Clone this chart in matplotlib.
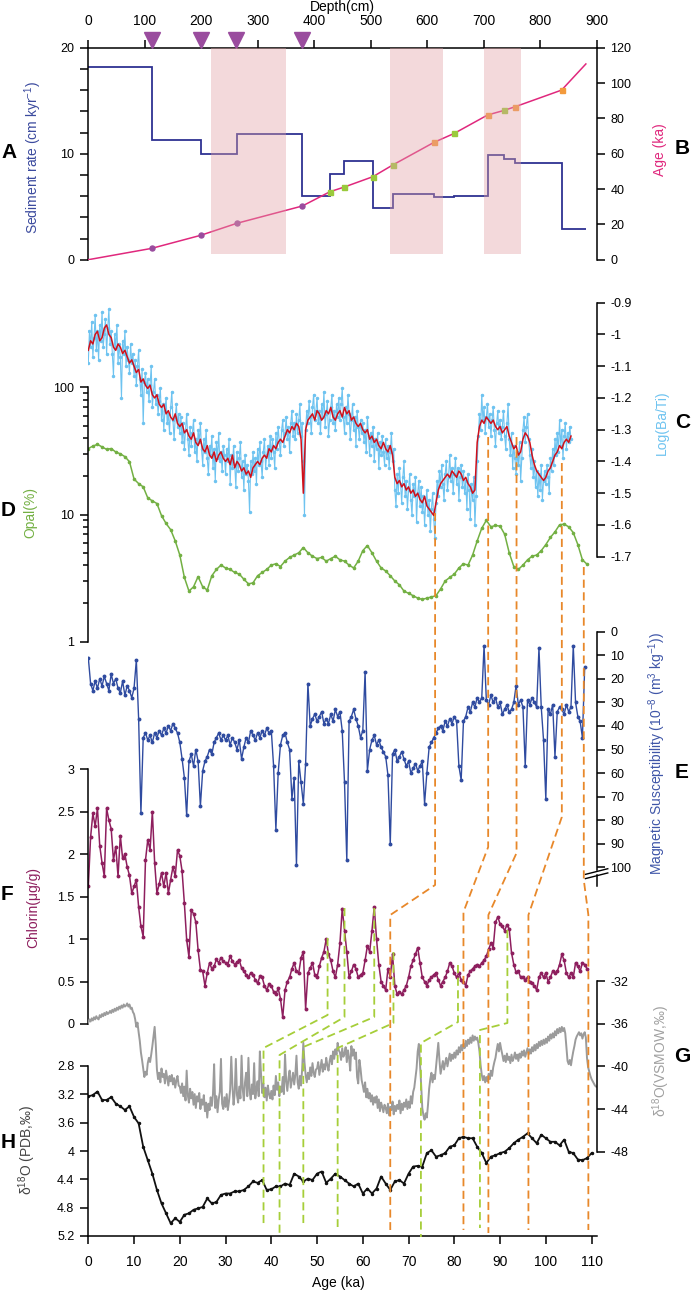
import numpy as np
import matplotlib
matplotlib.use('Agg')
import matplotlib.pyplot as plt
from matplotlib.transforms import blended_transform_factory as blend

plt.rcParams['font.family'] = ['Liberation Sans', 'DejaVu Sans']
plt.rcParams['mathtext.fontset'] = 'custom'
plt.rcParams['mathtext.rm'] = 'Liberation Sans'
plt.rcParams['mathtext.default'] = 'regular'
plt.rcParams['axes.linewidth'] = 1.1

# ---------------- datos ----------------
# panel A/B: tasa de sedimentacion y modelo de edad (profundidad en cm)
depth_edges = [0, 112, 199, 263, 379, 428, 453, 504, 539, 612, 648, 707, 736, 756, 838, 881]
sed_rate = [18.2, 11.25, 10.0, 11.85, 5.97, 8.05, 9.28, 4.87, 6.19, 5.9, 6.0, 9.87, 9.53, 9.12, 2.86]
tie_depth = [0, 112, 199, 263, 379, 428, 453, 504, 539, 612, 648, 707, 736, 756, 838, 881]
tie_age = [0, 6.4, 13.8, 20.6, 30.4, 38.5, 41.1, 47.0, 53.6, 66.4, 71.5, 81.9, 84.5, 86.6, 96.0, 110.8]
tie_kind = ['none', 'c14', 'c14', 'c14', 'c14', 'g', 'g', 'g', 'g', 'o', 'g', 'o', 'g', 'o', 'o', 'none']
tri_depth = [112, 199, 262, 379]
bands = [(217, 350), (534, 628), (701, 767)]

# panel C: Log(Ba/Ti), serie suavizada (roja) y datos (azul claro)
bati_age = np.arange(0, 106, 0.5)
bati_smooth = [
    -1.05, -1.02, -1.03, -1.00, -0.99, -1.02, -1.01, -0.98, -0.97, -1.00,
    -1.01, -1.04, -1.05, -1.03, -1.04, -1.06, -1.05, -1.07, -1.09, -1.08,
    -1.10, -1.12, -1.11, -1.15, -1.14, -1.16, -1.17, -1.16, -1.19, -1.20,
    -1.19, -1.22, -1.23, -1.22, -1.25, -1.24, -1.26, -1.27, -1.25, -1.28,
    -1.29, -1.28, -1.31, -1.30, -1.32, -1.33, -1.31, -1.34, -1.35, -1.33,
    -1.36, -1.37, -1.35, -1.38, -1.39, -1.37, -1.40, -1.38, -1.37, -1.39,
    -1.40, -1.39, -1.41, -1.38, -1.42, -1.40, -1.41, -1.43, -1.42, -1.44,
    -1.43, -1.45, -1.42, -1.41, -1.40, -1.41, -1.39, -1.38, -1.39, -1.36,
    -1.37, -1.35, -1.36, -1.34, -1.33, -1.34, -1.32, -1.30, -1.31, -1.29,
    -1.30, -1.28, -1.29, -1.33, -1.50, -1.30, -1.27, -1.26, -1.25, -1.27,
    -1.24, -1.25, -1.27, -1.26, -1.24, -1.25, -1.23, -1.26, -1.27, -1.25,
    -1.24, -1.26, -1.23, -1.25, -1.24, -1.27, -1.26, -1.28, -1.29, -1.28,
    -1.30, -1.31, -1.30, -1.33, -1.32, -1.34, -1.33, -1.35, -1.36, -1.34,
    -1.36, -1.37, -1.35, -1.38, -1.45, -1.47, -1.46, -1.48, -1.47, -1.49,
    -1.48, -1.50, -1.49, -1.51, -1.50, -1.52, -1.53, -1.51, -1.54, -1.55,
    -1.56, -1.57, -1.53, -1.49, -1.47, -1.46, -1.45, -1.44, -1.45, -1.43,
    -1.44, -1.45, -1.43, -1.44, -1.46, -1.45, -1.47, -1.48, -1.50, -1.49,
    -1.34, -1.29, -1.27, -1.28, -1.26, -1.27, -1.28, -1.27, -1.29, -1.30,
    -1.29, -1.31, -1.30, -1.29, -1.32, -1.34, -1.36, -1.35, -1.38, -1.37,
    -1.33, -1.31, -1.32, -1.34, -1.38, -1.41, -1.43, -1.44, -1.45, -1.46,
    -1.45, -1.43, -1.42, -1.40, -1.38, -1.37, -1.35, -1.36, -1.34, -1.33,
    -1.34, -1.32]
bati_raw_age = np.arange(0, 105.75, 0.25)
bati_raw = [
    -1.09, -0.99, -1.04, -0.96, -1.07, -1.01, -0.94, -1.05, -0.99, -1.08,
    -0.97, -1.02, -0.93, -1.04, -1.00, -0.95, -1.06, -0.98, -0.92, -1.03,
    -0.99, -1.06, -1.13, -1.00, -1.04, -0.97, -1.09, -1.03, -1.07, -1.20,
    -1.02, -1.06, -0.99, -1.10, -1.04, -1.08, -1.12, -1.03, -1.09, -1.06,
    -1.13, -1.08, -1.16, -1.10, -1.05, -1.14, -1.19, -1.11, -1.28, -1.15,
    -1.12, -1.18, -1.14, -1.21, -1.16, -1.10, -1.23, -1.18, -1.14, -1.22,
    -1.19, -1.25, -1.21, -1.17, -1.27, -1.22, -1.30, -1.24, -1.20, -1.28,
    -1.25, -1.31, -1.23, -1.18, -1.27, -1.33, -1.26, -1.22, -1.29, -1.25,
    -1.31, -1.26, -1.34, -1.28, -1.36, -1.30, -1.25, -1.33, -1.38, -1.29,
    -1.35, -1.31, -1.27, -1.37, -1.33, -1.40, -1.30, -1.34, -1.28, -1.36,
    -1.41, -1.33, -1.37, -1.30, -1.39, -1.44, -1.35, -1.38, -1.32, -1.42,
    -1.36, -1.46, -1.34, -1.39, -1.31, -1.40, -1.37, -1.43, -1.35, -1.38,
    -1.44, -1.36, -1.40, -1.33, -1.47, -1.38, -1.42, -1.35, -1.41, -1.48,
    -1.37, -1.43, -1.39, -1.34, -1.45, -1.40, -1.49, -1.38, -1.44, -1.41,
    -1.46, -1.56, -1.40, -1.44, -1.37, -1.43, -1.39, -1.47, -1.36, -1.41,
    -1.34, -1.40, -1.45, -1.37, -1.33, -1.42, -1.38, -1.35, -1.41, -1.32,
    -1.39, -1.33, -1.37, -1.42, -1.31, -1.36, -1.29, -1.34, -1.38, -1.30,
    -1.27, -1.35, -1.31, -1.26, -1.33, -1.29, -1.37, -1.28, -1.24, -1.32,
    -1.28, -1.33, -1.25, -1.31, -1.27, -1.22, -1.32, -1.28, -1.40, -1.57,
    -1.30, -1.24, -1.28, -1.21, -1.26, -1.31, -1.23, -1.19, -1.27, -1.24,
    -1.20, -1.28, -1.24, -1.31, -1.22, -1.26, -1.18, -1.29, -1.25, -1.21,
    -1.32, -1.27, -1.23, -1.19, -1.28, -1.24, -1.30, -1.22, -1.26, -1.20,
    -1.27, -1.22, -1.17, -1.26, -1.31, -1.23, -1.28, -1.19, -1.25, -1.33,
    -1.27, -1.22, -1.30, -1.26, -1.35, -1.24, -1.29, -1.33, -1.27, -1.31,
    -1.28, -1.34, -1.30, -1.37, -1.26, -1.32, -1.38, -1.31, -1.35, -1.29,
    -1.40, -1.33, -1.36, -1.31, -1.42, -1.34, -1.38, -1.32, -1.37, -1.41,
    -1.33, -1.39, -1.35, -1.42, -1.37, -1.31, -1.40, -1.36, -1.49, -1.54,
    -1.44, -1.50, -1.42, -1.47, -1.53, -1.45, -1.40, -1.51, -1.46, -1.55,
    -1.49, -1.44, -1.52, -1.57, -1.47, -1.51, -1.45, -1.59, -1.50, -1.46,
    -1.54, -1.48, -1.56, -1.51, -1.60, -1.53, -1.49, -1.57, -1.52, -1.62,
    -1.55, -1.50, -1.58, -1.64, -1.53, -1.46, -1.51, -1.43, -1.48, -1.41,
    -1.47, -1.52, -1.44, -1.40, -1.49, -1.45, -1.38, -1.46, -1.42, -1.50,
    -1.44, -1.39, -1.47, -1.42, -1.52, -1.45, -1.41, -1.48, -1.43, -1.50,
    -1.46, -1.55, -1.44, -1.49, -1.58, -1.47, -1.52, -1.45, -1.60, -1.51,
    -1.40, -1.32, -1.25, -1.30, -1.19, -1.27, -1.23, -1.31, -1.26, -1.22,
    -1.29, -1.25, -1.32, -1.27, -1.23, -1.30, -1.35, -1.28, -1.24, -1.31,
    -1.27, -1.33, -1.29, -1.24, -1.32, -1.36, -1.28, -1.22, -1.33, -1.38,
    -1.31, -1.42, -1.35, -1.39, -1.44, -1.37, -1.41, -1.34, -1.46, -1.39,
    -1.30, -1.26, -1.34, -1.29, -1.25, -1.33, -1.38, -1.42, -1.36, -1.45,
    -1.40, -1.48, -1.43, -1.51, -1.44, -1.49, -1.41, -1.52, -1.46, -1.43,
    -1.47, -1.41, -1.45, -1.50, -1.39, -1.43, -1.36, -1.41, -1.33, -1.38,
    -1.31, -1.37, -1.27, -1.35, -1.30, -1.39, -1.32, -1.28, -1.36, -1.31,
    -1.34, -1.29, -1.33]

# panel D: opal (%)
opal_age = list(range(0, 109)) + [108.9]
opal = [
    33, 34.5, 35.6, 34, 32.5, 33, 31, 30, 28.5, 26,
    19, 17.5, 16.5, 13.5, 12.8, 12.2, 9.8, 8.5, 7.6, 6.2,
    4.8, 3.2, 2.5, 2.7, 3.25, 2.7, 2.55, 3.3, 3.7, 4.0,
    3.8, 3.7, 3.5, 3.4, 3.1, 2.85, 2.9, 3.3, 3.5, 3.7,
    4.0, 4.1, 3.9, 4.3, 4.6, 4.8, 5.0, 5.5, 5.0, 4.7,
    4.5, 4.6, 4.3, 4.5, 4.7, 4.4, 4.3, 4.0, 3.8, 4.3,
    5.2, 5.7, 5.0, 4.3, 3.8, 3.6, 3.3, 3.0, 2.8, 2.5,
    2.4, 2.3, 2.2, 2.15, 2.2, 2.25, 2.3, 2.6, 3.0, 3.2,
    3.4, 3.8, 4.1, 4.0, 4.8, 6.2, 7.8, 9.0, 8.0, 8.2,
    8.1, 7.0, 5.0, 3.9, 3.7, 4.0, 4.4, 4.7, 4.8, 5.2,
    5.8, 6.6, 7.3, 8.3, 8.4, 8.0, 7.2, 5.8, 4.4,
    4.1]

# panel E: susceptibilidad magnetica
ms_age = np.arange(0, 109, 0.5)
mag_sus = [
    11, 22, 25, 21, 24, 20, 23, 19, 22, 25,
    18, 22, 20, 24, 26, 21, 27, 23, 25, 28,
    24, 12, 37, 77, 45, 43, 46, 44, 47, 43,
    45, 42, 44, 41, 43, 40, 42, 39, 41, 43,
    47, 54, 62, 78, 55, 52, 57, 50, 55, 74,
    59, 55, 53, 50, 52, 47, 45, 43, 46, 44,
    46, 44, 48, 45, 47, 50, 46, 54, 49, 45,
    47, 42, 44, 46, 43, 45, 42, 44, 41, 43,
    42, 57, 84, 60, 48, 44, 43, 47, 50, 71,
    62, 99, 55, 64, 73, 56, 22, 40, 37, 35,
    38, 36, 34, 39, 37, 39, 35, 38, 33, 36,
    34, 42, 64, 97, 38, 36, 33, 37, 40, 45,
    42, 17, 59, 50, 46, 44, 48, 46, 49, 51,
    53, 61, 90, 52, 50, 55, 53, 51, 54, 57,
    55, 60, 58, 56, 59, 57, 55, 73, 60, 49,
    47, 45, 43, 41, 40, 42, 38, 40, 37, 39,
    36, 38, 57, 63, 38, 36, 32, 34, 30, 32,
    28, 30, 28, 6, 29, 31, 27, 30, 28, 32,
    30, 35, 33, 31, 34, 33, 30, 23, 31, 29,
    32, 57, 29, 31, 28, 30, 32, 7, 32, 46,
    71, 33, 35, 31, 53, 34, 32, 33, 35, 31,
    34, 32, 6, 30, 36, 38, 45, 15]

# panel F: clorinas (ug/g)
chl_age = np.arange(0, 109.5, 0.5)
chlorin = [
    1.62, 2.20, 2.48, 2.33, 2.54, 2.10, 1.90, 1.74, 2.54, 2.40,
    2.30, 1.93, 2.09, 1.74, 2.22, 1.95, 2.00, 1.85, 1.75, 1.54,
    1.62, 1.70, 1.38, 1.15, 1.03, 1.93, 2.17, 2.05, 2.50, 1.90,
    1.54, 1.65, 1.78, 1.62, 1.78, 1.54, 1.70, 1.85, 1.74, 2.05,
    1.98, 1.80, 1.42, 0.99, 0.79, 1.34, 1.30, 1.20, 0.87, 0.64,
    0.62, 0.45, 0.60, 0.72, 0.65, 0.68, 0.76, 0.72, 0.78, 0.74,
    0.72, 0.70, 0.80, 0.74, 0.70, 0.73, 0.75, 0.66, 0.62, 0.58,
    0.55, 0.60, 0.58, 0.52, 0.48, 0.56, 0.55, 0.45, 0.40, 0.47,
    0.45, 0.38, 0.35, 0.42, 0.30, 0.08, 0.40, 0.50, 0.55, 0.65,
    0.72, 0.62, 0.60, 0.78, 0.85, 0.18, 0.60, 0.66, 0.72, 0.58,
    0.55, 0.68, 0.78, 0.85, 1.00, 0.82, 0.75, 0.62, 0.55, 0.70,
    0.95, 1.36, 1.10, 0.85, 0.55, 0.62, 0.70, 0.65, 0.55, 0.58,
    0.60, 0.75, 0.92, 0.85, 1.10, 1.38, 1.00, 0.70, 0.50, 0.45,
    0.40, 0.65, 0.55, 0.82, 0.45, 0.35, 0.38, 0.35, 0.40, 0.45,
    0.55, 0.68, 0.75, 0.82, 0.90, 0.72, 0.55, 0.50, 0.45, 0.52,
    0.55, 0.58, 0.60, 0.52, 0.45, 0.50, 0.55, 0.62, 0.72, 0.68,
    0.60, 0.55, 0.60, 0.52, 0.50, 0.45, 0.58, 0.62, 0.65, 0.68,
    0.70, 0.68, 0.72, 0.75, 0.80, 0.88, 0.95, 0.90, 1.20, 1.26,
    1.18, 1.15, 1.10, 1.17, 1.12, 0.84, 0.70, 0.61, 0.62, 0.55,
    0.55, 0.52, 0.55, 0.50, 0.48, 0.45, 0.40, 0.55, 0.60, 0.55,
    0.60, 0.50, 0.55, 0.62, 0.60, 0.62, 0.70, 0.82, 0.75, 0.60,
    0.55, 0.60, 0.55, 0.72, 0.68, 0.62, 0.72, 0.70, 0.65]

# panel G: d18O hielo (VSMOW)
ice_age = np.arange(0, 111.25, 0.25)
ice_d18o = [
    -35.9, -35.6, -35.8, -35.5, -35.7, -35.4, -35.6, -35.3, -35.5, -35.6,
    -35.2, -35.4, -35.1, -35.3, -35.0, -35.2, -34.9, -35.1, -35.0, -34.8,
    -35.0, -34.7, -34.9, -34.6, -34.8, -34.5, -34.7, -34.4, -34.6, -34.3,
    -34.5, -34.2, -34.4, -34.3, -34.1, -34.4, -34.2, -34.6, -34.5, -34.9,
    -35.1, -35.6, -36.3, -35.9, -36.8, -37.6, -38.7, -39.4, -40.2, -41.0,
    -40.5, -40.8, -39.7, -39.2, -39.6, -38.9, -38.1, -37.2, -36.3, -38.0,
    -40.3, -41.2, -40.6, -41.5, -40.2, -41.0, -40.7, -41.6, -40.4, -41.1,
    -41.8, -40.9, -41.4, -40.8, -41.7, -41.1, -42.0, -41.3, -40.9, -41.8,
    -41.9, -42.5, -41.6, -42.8, -41.9, -43.2, -40.4, -42.7, -43.4, -42.1,
    -43.0, -42.4, -43.6, -42.6, -43.9, -42.8, -43.3, -42.5, -44.0, -43.1,
    -43.6, -42.7, -44.2, -43.4, -44.8, -43.5, -44.1, -42.9, -43.7, -42.6,
    -39.8, -43.9, -42.8, -44.3, -43.1, -42.4, -39.3, -43.5, -44.0, -42.9,
    -43.8, -42.6, -44.1, -43.3, -42.2, -39.1, -41.8, -43.6, -42.5, -39.3,
    -42.7, -43.4, -41.9, -43.0, -39.0, -42.1, -43.2, -41.5, -40.6, -42.8,
    -39.2, -42.3, -43.1, -41.7, -42.6, -39.7, -43.0, -42.1, -41.4, -42.8,
    -38.6, -40.7, -42.5, -41.6, -42.9, -42.0, -43.2, -41.8, -42.6, -43.0,
    -42.3, -43.1, -41.8, -42.7, -40.9, -42.2, -41.5, -42.8, -41.9, -42.4,
    -41.0, -42.6, -38.9, -41.4, -42.3, -41.1, -40.4, -42.0, -41.3, -40.6,
    -41.7, -40.8, -39.0, -41.5, -42.1, -40.9, -41.8, -40.2, -37.8, -39.6,
    -40.8, -41.5, -40.6, -41.2, -40.1, -40.9, -39.7, -40.6, -41.0, -40.3,
    -40.2, -39.6, -40.8, -40.1, -39.4, -40.5, -39.8, -40.3, -39.2, -39.9,
    -40.4, -39.5, -39.0, -39.8, -38.6, -39.3, -38.4, -38.9, -37.8, -38.5,
    -38.7, -39.4, -38.3, -39.1, -38.8, -38.2, -39.6, -38.5, -39.2, -40.4,
    -38.1, -39.0, -38.4, -39.3, -38.7, -41.0, -41.6, -39.4, -40.2, -41.3,
    -41.8, -42.4, -41.5, -42.9, -42.1, -43.0, -42.5, -43.3, -42.7, -43.6,
    -42.9, -43.4, -42.8, -43.9, -43.1, -44.2, -43.4, -43.8, -44.3, -43.6,
    -43.9, -44.4, -43.5, -44.6, -43.8, -44.1, -43.3, -44.5, -43.7, -44.2,
    -43.6, -44.0, -43.2, -44.4, -43.5, -44.1, -43.4, -43.8, -43.1, -44.0,
    -43.3, -43.9, -42.8, -43.5, -42.4, -42.0, -41.1, -40.2, -38.6, -37.9,
    -39.8, -41.7, -43.9, -44.6, -45.0, -44.4, -44.8, -43.6, -42.1, -41.2,
    -40.6, -41.5, -40.8, -41.2, -40.1, -38.9, -37.8, -39.4, -40.7, -40.1,
    -39.5, -40.3, -39.7, -39.2, -40.0, -39.4, -38.8, -39.5, -38.9, -39.3,
    -38.7, -39.2, -38.5, -38.9, -38.2, -38.7, -38.0, -38.5, -37.9, -38.3,
    -37.6, -38.1, -37.5, -37.9, -37.3, -37.8, -37.1, -37.6, -37.2, -37.5,
    -37.3, -37.8, -38.6, -39.9, -40.8, -41.3, -40.9, -41.5, -41.0, -41.4,
    -40.7, -41.2, -40.4, -40.9, -40.1, -39.6, -39.2, -38.5, -37.9, -38.6,
    -37.8, -38.4, -38.9, -39.5, -39.0, -39.6, -38.8, -39.4, -39.1, -39.7,
    -38.9, -39.5, -39.2, -38.7, -39.3, -38.9, -39.5, -38.8, -39.2, -38.6,
    -39.0, -38.5, -39.1, -38.7, -38.3, -38.9, -38.4, -38.8, -38.2, -38.6,
    -38.0, -38.5, -37.9, -38.3, -37.7, -38.1, -37.6, -38.0, -37.5, -37.9,
    -37.4, -37.8, -37.2, -37.6, -37.0, -37.4, -36.9, -37.3, -36.7, -37.1,
    -36.5, -36.9, -36.4, -36.8, -36.3, -36.7, -36.4, -36.9, -38.2, -39.5,
    -39.8, -39.4, -39.9, -39.2, -38.6, -38.1, -37.5, -37.2, -37.0, -36.8,
    -37.1, -36.9, -37.4, -37.0, -36.8, -37.3, -39.2, -40.1, -40.5, -40.9,
    -41.2, -41.4, -41.6, -41.8, -41.9]

# panel H: d18O bentonico (PDB)
ben_age = np.arange(0, 111, 1)
ben_d18o = [
    3.23, 3.21, 3.16, 3.28, 3.28, 3.24, 3.33, 3.37, 3.42, 3.37,
    3.52, 3.61, 3.94, 4.13, 4.32, 4.55, 4.74, 4.88, 5.02, 4.95,
    5.00, 4.90, 4.88, 4.83, 4.81, 4.79, 4.67, 4.74, 4.72, 4.62,
    4.60, 4.60, 4.57, 4.57, 4.55, 4.50, 4.43, 4.45, 4.41, 4.55,
    4.54, 4.50, 4.50, 4.46, 4.48, 4.32, 4.36, 4.43, 4.39, 4.41,
    4.32, 4.29, 4.45, 4.39, 4.32, 4.36, 4.41, 4.46, 4.50, 4.46,
    4.60, 4.53, 4.60, 4.53, 4.36, 4.46, 4.55, 4.43, 4.41, 4.46,
    4.32, 4.22, 4.21, 4.22, 4.03, 3.99, 4.08, 4.06, 4.03, 3.94,
    3.92, 3.82, 3.80, 3.82, 3.82, 3.94, 4.03, 4.17, 4.08, 4.06,
    4.03, 4.01, 3.96, 3.89, 3.84, 3.80, 3.75, 3.82, 3.89, 3.77,
    3.82, 3.87, 3.87, 3.92, 3.84, 4.01, 4.03, 4.12, 4.13, 4.10,
    4.03]

# lineas de correlacion: edades de cada quiebre y su altura en pixeles de la figura
orange_ages = [[75.8, 75.8, 66.0, 66.0], [87.4, 87.4, 82.0, 82.0], [93.6, 93.6, 87.45, 87.45],
               [103.5, 103.5, 96.2, 96.2], [108.3, 108.3, 109.3, 109.3]]
orange_y = [[513, 885, 915, 1230], [437, 847, 912, 1230], [437, 853, 915, 1233],
            [463, 817, 915, 1230], [567, 880, 915, 1230]]
green_ages = [[52.3, 52.3, 38.3, 38.3], [56.0, 56.0, 41.8, 41.8], [62.5, 62.5, 47.0, 47.0],
              [66.7, 66.7, 54.5, 54.5], [80.8, 80.8, 72.7, 72.7], [91.6, 91.6, 85.6, 85.6]]
green_y = [[938, 1015, 1048, 1227], [908, 1017, 1055, 1235], [908, 1017, 1047, 1227],
           [952, 1023, 1048, 1227], [965, 1022, 1043, 1237], [930, 1023, 1030, 1228]]

# ---------------- colores ----------------
NAVY = '#2E3192'
MAGENTA = '#E0287D'
PURPLE = '#9A4C9E'
GREEN_SQ = '#9ACA3C'
ORANGE_SQ = '#F39A3C'
LBLUE = '#6EC3F0'
RED = '#D0101B'
OPAL = '#73B043'
MSBLUE = '#2F4BA0'
CHL = '#8E1F5E'
GRAY = '#9B9B9B'
DORANGE = '#E8882A'
DGREEN = '#A6CE39'

# ---------------- figura ----------------
WPX, HPX = 692, 1293
X0, X1 = 88.3, 596.6
AGE_MAX = 111.1
fig = plt.figure(figsize=(WPX / 100, HPX / 100), dpi=100)


def frame(top, bot):
    ax = fig.add_axes([X0 / WPX, 1 - bot / HPX, (X1 - X0) / WPX, (bot - top) / HPX])
    ax.patch.set_visible(False)
    for s in ax.spines.values():
        s.set_visible(False)
    ax.set_xlim(0, AGE_MAX)
    ax.set_xticks([])
    return ax


def hide(ax):
    ax.patch.set_visible(False)
    for s in ax.spines.values():
        s.set_visible(False)


def lims(top, bot, p1, v1, p2, v2):
    k = (v2 - v1) / (p2 - p1)
    return v1 + (bot - p1) * k, v1 + (top - p1) * k


def yaxis(ax, side, ticks, labels, bounds):
    ax.spines[side].set_visible(True)
    ax.spines[side].set_bounds(*bounds)
    if side == 'right':
        ax.yaxis.tick_right()
    else:
        ax.yaxis.tick_left()
    ax.set_yticks(ticks)
    ax.set_yticklabels(labels)
    ax.tick_params(axis='y', which='both', direction='out', length=6, width=1.1,
                   pad=4, labelsize=9)


def ftext(x, y, s, **kw):
    fig.text(x / WPX, 1 - y / HPX, s, ha='center', va='center', **kw)


# ---- A / B ----
A_TOP, A_BOT = 47.7, 259.7
axA = frame(A_TOP, A_BOT)
axA.set_xlim(0, 900)
axA.set_ylim(0, 20)
axA.stairs(sed_rate, depth_edges, color=NAVY, lw=1.3, baseline=None)
yaxis(axA, 'left', [0, 10, 20], ['0', '10', '20'], (0, 20))
axA.set_yticks(np.arange(0, 21, 2), minor=True)
axA.spines['top'].set_visible(True)
axA.xaxis.tick_top()
axA.set_xticks(range(0, 1000, 100))
axA.tick_params(axis='x', direction='out', length=6, width=1.1, pad=8.5, labelsize=10)
axA.plot(tri_depth, [1.037] * len(tri_depth), 'v', color=PURPLE, ms=12,
         transform=blend(axA.transData, axA.transAxes), clip_on=False, zorder=6)

axB = axA.twinx()
hide(axB)
axB.set_ylim(0, 120)
axB.plot(tie_depth, tie_age, color=MAGENTA, lw=1.1)
marks = {'c14': ('o', PURPLE), 'g': ('s', GREEN_SQ), 'o': ('s', ORANGE_SQ)}
for kind, (m, c) in marks.items():
    dd = [d for d, k in zip(tie_depth, tie_kind) if k == kind]
    aa = [a for a, k in zip(tie_age, tie_kind) if k == kind]
    axB.plot(dd, aa, m, color=c, ms=3.6, zorder=4)
yaxis(axB, 'right', range(0, 121, 20), [str(v) for v in range(0, 121, 20)], (0, 120))
for d0, d1 in bands:
    axB.axvspan(d0, d1, ymin=0.025, ymax=1, color='#E1A0A5', alpha=0.4, lw=0, zorder=5)

# ---- C / D ----
CD_TOP, CD_BOT = 262, 660
axD = frame(CD_TOP, CD_BOT)
axD.set_yscale('log')
lo, hi = lims(CD_TOP, CD_BOT, 387.3, 2, 641.7, 0)
axD.set_ylim(10 ** lo, 10 ** hi)
axD.plot(opal_age, opal, color=OPAL, lw=1.1, marker='o', ms=1.6)
yaxis(axD, 'left', [1, 10, 100], ['1', '10', '100'], (1, 100))
axD.set_yticks([2, 3, 4, 5, 6, 7, 8, 9, 20, 30, 40, 50, 60, 70, 80, 90], minor=True)
axD.yaxis.set_minor_formatter(plt.NullFormatter())
axD.tick_params(axis='y', which='minor', length=3.5)

axC = axD.twinx()
hide(axC)
axC.set_xlim(0, AGE_MAX)
axC.set_ylim(*lims(CD_TOP, CD_BOT, 302.7, -0.9, 556.7, -1.7))
axC.plot(bati_raw_age, bati_raw, color=LBLUE, lw=0.8, marker='o', ms=1.5)
axC.plot(bati_age, bati_smooth, color=RED, lw=1.1)
cticks = [-0.9, -1.0, -1.1, -1.2, -1.3, -1.4, -1.5, -1.6, -1.7]
yaxis(axC, 'right', cticks, ['-0.9', '-1', '-1.1', '-1.2', '-1.3', '-1.4', '-1.5', '-1.6', '-1.7'],
      (-1.7, -0.9))

# ---- E ----
E_TOP, E_BOT = 600, 900
axE = frame(E_TOP, E_BOT)
axE.set_ylim(*lims(E_TOP, E_BOT, 631.7, 0, 867.3, 100))
axE.plot(ms_age, mag_sus, color=MSBLUE, lw=1.0, marker='o', ms=1.8)
yaxis(axE, 'right', range(0, 101, 10), [str(v) for v in range(0, 101, 10)], (0, 101.3))
tr = blend(axE.transAxes, axE.transData)
axE.plot([1, 1], [103.4, 108], color='k', lw=1.1, transform=tr, clip_on=False)
axE.plot([0.978, 1.022], [103.0, 100.6], color='k', lw=1.0, transform=tr, clip_on=False)
axE.plot([0.978, 1.022], [104.8, 102.4], color='k', lw=1.0, transform=tr, clip_on=False)

# ---- F ----
F_TOP, F_BOT = 760, 1030
axF = frame(F_TOP, F_BOT)
axF.set_ylim(*lims(F_TOP, F_BOT, 769.3, 3, 1024, 0))
axF.plot(chl_age, chlorin, color=CHL, lw=1.1, marker='o', ms=1.8)
yaxis(axF, 'left', [0, 0.5, 1, 1.5, 2, 2.5, 3], ['0', '0.5', '1', '1.5', '2', '2.5', '3'], (0, 3))

# ---- G ----
G_TOP, G_BOT = 940, 1160
axG = frame(G_TOP, G_BOT)
axG.set_ylim(*lims(G_TOP, G_BOT, 981, -32, 1151.7, -48))
axG.plot(ice_age, ice_d18o, color=GRAY, lw=1.4)
yaxis(axG, 'right', [-32, -36, -40, -44, -48], ['-32', '-36', '-40', '-44', '-48'], (-48, -32))

# ---- H ----
H_TOP, H_BOT = 1000, 1236
axH = frame(H_TOP, H_BOT)
axH.set_ylim(*lims(H_TOP, H_BOT, 1066, 2.8, 1236, 5.2))
axH.plot(ben_age, ben_d18o, color='#111111', lw=1.3, marker='o', ms=1.5)
hticks = [2.8, 3.2, 3.6, 4.0, 4.4, 4.8, 5.2]
yaxis(axH, 'left', hticks, ['2.8', '3.2', '3.6', '4', '4.4', '4.8', '5.2'], (2.8, 5.2))
axH.spines['bottom'].set_visible(True)
axH.set_xticks(range(0, 111, 10))
axH.tick_params(axis='x', direction='out', length=6, width=1.1, pad=8, labelsize=10)

# ---- lineas de correlacion ----
axO = fig.add_axes([X0 / WPX, 0, (X1 - X0) / WPX, 1])
axO.set_xlim(0, AGE_MAX)
axO.set_ylim(HPX, 0)
axO.axis('off')
for xs, ys in zip(orange_ages, orange_y):
    axO.plot(xs, ys, color=DORANGE, lw=1.3, dashes=(4.5, 2.5), clip_on=False)
for xs, ys in zip(green_ages, green_y):
    axO.plot(xs, ys, color=DGREEN, lw=1.3, dashes=(4.5, 2.5), clip_on=False)

# ---- textos ----
ftext(342, 7, 'Depth(cm)', fontsize=10)
ftext(33, 157, 'Sediment rate (cm kyr$^{-1}$)', rotation=90, color='#3B4A9E', fontsize=10)
ftext(660, 150, 'Age (ka)', rotation=90, color=MAGENTA, fontsize=10)
ftext(662, 423, 'Log(Ba/Ti)', rotation=90, color=LBLUE, fontsize=10)
ftext(30, 512, 'Opal(%)', rotation=90, color=OPAL, fontsize=10)
ftext(657, 753, 'Magnetic Susceptibility (10$^{-8}$ (m$^{3}$ kg$^{-1}$))', rotation=90,
      color='#3F56A8', fontsize=10)
ftext(33, 907, 'Chlorin(μg/g)', rotation=90, color=CHL, fontsize=10)
ftext(661, 1061, 'δ$^{18}$O(VSMOW,‰)', rotation=90, color='#A0A0A0', fontsize=10)
ftext(27, 1150, 'δ$^{18}$O (PDB,‰)', rotation=90, color='#444444', fontsize=10)
ftext(338, 1283, 'Age (ka)', fontsize=10)
for s, x, y in [('A', 9, 153), ('B', 682, 148), ('C', 683, 423), ('D', 8, 510),
                ('E', 682, 772), ('F', 7, 895), ('G', 682, 1057), ('H', 8, 1142)]:
    ftext(x, y, s, fontsize=15, fontweight='bold')

fig.savefig('out.png', dpi=100)
